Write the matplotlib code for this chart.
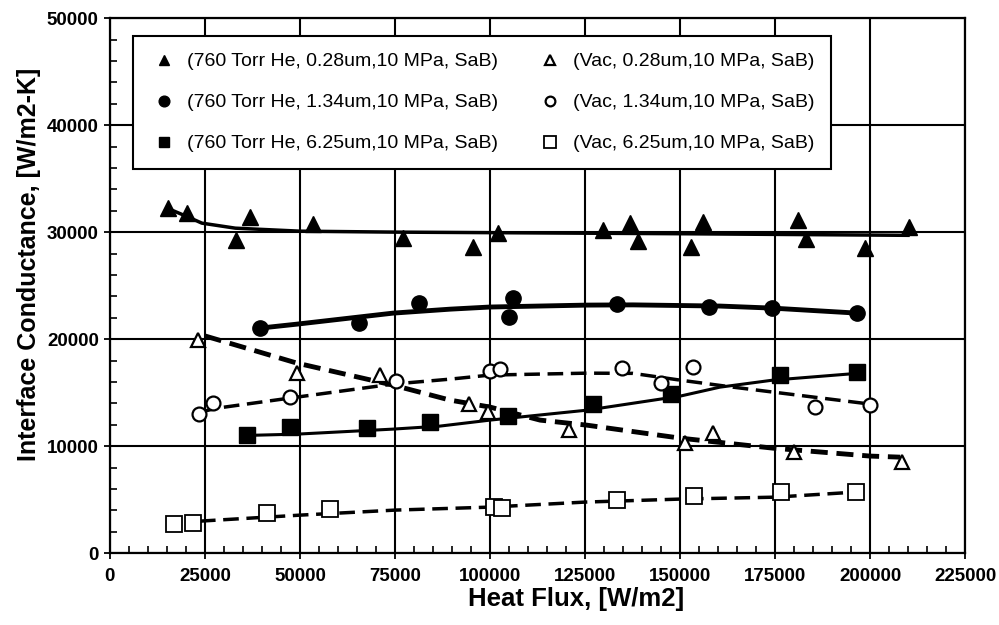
import matplotlib
matplotlib.use("Agg")
import matplotlib.pyplot as plt
from matplotlib.ticker import MultipleLocator

plt.rcParams['font.family'] = ['Liberation Sans', 'DejaVu Sans']

# measured points
he028_x = [15300, 20300, 33200, 36800, 53400, 77100, 95500, 102100, 129700, 136800,
           139000, 152900, 156000, 181100, 183200, 198700, 210300]
he028_y = [32240, 31780, 29250, 31400, 30750, 29440, 28600, 29900, 30190, 30840,
           29160, 28600, 30930, 31120, 29350, 28500, 30470]
he134_x = [39500, 65500, 81300, 106000, 105000, 133400, 157600, 174200, 196600]
he134_y = [21030, 21500, 23370, 23830, 22060, 23270, 22990, 22900, 22430]
he625_x = [36000, 47400, 67600, 84200, 104700, 127100, 147600, 176300, 196600]
he625_y = [11030, 11780, 11680, 12240, 12800, 13930, 14860, 16640, 16920]
vac028_x = [23200, 49200, 71000, 94500, 99500, 120800, 151300, 158700, 180000, 208400]
vac028_y = [19900, 16820, 16640, 13930, 13180, 11500, 10280, 11220, 9440, 8500]
vac134_x = [23400, 27100, 47400, 75300, 100000, 102600, 134700, 145000, 153400, 185500, 200000]
vac134_y = [12990, 14020, 14580, 16080, 17010, 17200, 17290, 15890, 17380, 13650, 13830]
vac625_x = [16800, 21800, 41300, 57900, 101000, 103100, 133400, 153700, 176600, 196300]
vac625_y = [2710, 2800, 3740, 4110, 4300, 4210, 4950, 5330, 5700, 5700]

# trend curves
he028_fx = [16000, 20000, 24200, 33000, 50000, 75000, 100000, 150000, 210000]
he028_fy = [32100, 31500, 30840, 30370, 30090, 30000, 29950, 29850, 29700]
he134_fx = [39500, 49200, 74500, 89500, 100000, 125500, 137600, 160500, 174200, 196600]
he134_fy = [21030, 21400, 22430, 22800, 23000, 23180, 23200, 23090, 22900, 22430]
he625_fx = [36000, 49200, 74500, 86800, 100000, 125500, 150000, 160500, 174500, 196600]
he625_fy = [11000, 11120, 11590, 11870, 12430, 13360, 14670, 15510, 16170, 16800]
vac028_fx = [25000, 49200, 74500, 89500, 100000, 113200, 125500, 150000, 174500, 200000, 207900]
vac028_fy = [20300, 17760, 15700, 14300, 13650, 12430, 11960, 10750, 9810, 9070, 8970]
vac134_fx = [24000, 28200, 49200, 74500, 89500, 100000, 125500, 137600, 150000, 164000, 174500, 200000]
vac134_fy = [13200, 13550, 14580, 15800, 16260, 16640, 16820, 16800, 16170, 15510, 15050, 13930]
vac625_fx = [23700, 50000, 75000, 100000, 125000, 150000, 175000, 196000]
vac625_fy = [2990, 3550, 4020, 4300, 4770, 5050, 5230, 5700]

labels = ["(760 Torr He, 0.28um,10 MPa, SaB)", "(760 Torr He, 1.34um,10 MPa, SaB)",
          "(760 Torr He, 6.25um,10 MPa, SaB)", "(Vac, 0.28um,10 MPa, SaB)",
          "(Vac, 1.34um,10 MPa, SaB)", "(Vac, 6.25um,10 MPa, SaB)"]

fig = plt.figure(figsize=(9.99, 6.25), dpi=100)
ax = fig.add_axes([0.110, 0.115, 0.856, 0.856])

ax.grid(True, which="major", color="black", linewidth=1.5)
ax.set_axisbelow(True)

ax.plot(he028_fx, he028_fy, color="black", lw=2.5, zorder=3)
ax.plot(he134_fx, he134_fy, color="black", lw=3.5, zorder=3)
ax.plot(he625_fx, he625_fy, color="black", lw=2.2, zorder=3)
ax.plot(vac028_fx, vac028_fy, color="black", lw=3.5, ls=(0, (3.5, 1.8)), zorder=3)
ax.plot(vac134_fx, vac134_fy, color="black", lw=2.5, ls=(0, (4.5, 2.2)), zorder=3)
ax.plot(vac625_fx, vac625_fy, color="black", lw=2.5, ls=(0, (4.5, 2.2)), zorder=3)

h1, = ax.plot(he028_x, he028_y, "^", color="black", ms=11, ls="none", zorder=4)
h2, = ax.plot(he134_x, he134_y, "o", color="black", ms=11, ls="none", zorder=4)
h3, = ax.plot(he625_x, he625_y, "s", color="black", ms=11, ls="none", zorder=4)
h4, = ax.plot(vac028_x, vac028_y, "^", mfc="white", mec="black", mew=1.6, ms=10, ls="none", zorder=4)
h5, = ax.plot(vac134_x, vac134_y, "o", mfc="white", mec="black", mew=1.6, ms=10, ls="none", zorder=4)
h6, = ax.plot(vac625_x, vac625_y, "s", mfc="white", mec="black", mew=1.3, ms=12, ls="none", zorder=4)

ax.set_xlim(0, 225000)
ax.set_ylim(0, 50000)
ax.xaxis.set_major_locator(MultipleLocator(25000))
ax.xaxis.set_minor_locator(MultipleLocator(5000))
ax.yaxis.set_major_locator(MultipleLocator(10000))
ax.yaxis.set_minor_locator(MultipleLocator(2000))
ax.tick_params(which="major", direction="inout", length=9, width=1.3, labelsize=13.5, colors="black")
ax.tick_params(axis="x", which="major", pad=6)
ax.tick_params(which="minor", direction="in", length=5, width=1.2)
for lab in ax.get_xticklabels() + ax.get_yticklabels():
    lab.set_fontweight("bold")
for s in ax.spines.values():
    s.set_linewidth(1.6)

ax.set_xlabel("Heat Flux, [W/m2]", fontsize=18.5, fontweight="bold", labelpad=2, x=0.545)
ax.set_ylabel("Interface Conductance, [W/m2-K]", fontsize=18, fontweight="bold", labelpad=4, y=0.54)

leg = ax.legend([h1, h2, h3, h4, h5, h6], labels, ncol=2, loc="upper left",
                bbox_to_anchor=(0.027, 0.966), fontsize=14, markerscale=0.7,
                frameon=True, fancybox=False, edgecolor="black", framealpha=1,
                handlelength=1.45, handletextpad=0.5, columnspacing=1.9,
                labelspacing=1.2, borderpad=0.85, borderaxespad=0)
leg.get_frame().set_linewidth(1.5)
leg.set_zorder(5)

fig.savefig("out.png", dpi=100)
